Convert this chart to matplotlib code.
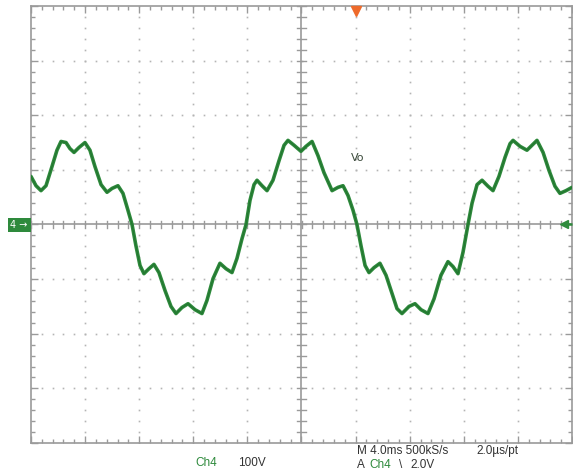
import matplotlib
matplotlib.use("Agg")
import matplotlib.pyplot as plt
import numpy as np
from matplotlib.patches import Rectangle

# ---- data (time in ms, voltage in V) ----
time_ms = [-20.00, -19.63, -19.26, -18.89, -18.45, -18.08, -17.78, -17.41, -17.12, -16.82,
           -16.45, -16.01, -15.64, -15.27, -14.82, -14.38, -14.01, -13.57, -13.20, -12.83,
           -12.53, -12.24, -11.94, -11.65, -11.28, -10.91, -10.54, -10.09, -9.65, -9.28,
           -8.84, -8.39, -7.87, -7.36, -6.99, -6.54, -6.03, -5.58, -5.14, -4.77,
           -4.40, -4.10, -3.81, -3.51, -3.29, -2.92, -2.55, -2.11, -1.66, -1.29,
           -1.00, -0.55, -0.04, 0.33, 0.78, 1.22, 1.66, 2.26, 2.70, 3.07,
           3.44, 3.81, 4.10, 4.40, 4.70, 4.99, 5.36, 5.80, 6.25, 6.69,
           7.06, 7.43, 7.95, 8.39, 8.84, 9.35, 9.80, 10.31, 10.83, 11.20,
           11.57, 11.94, 12.31, 12.61, 12.98, 13.35, 13.79, 14.16, 14.60, 15.05,
           15.42, 15.64, 16.16, 16.67, 17.04, 17.41, 17.86, 18.30, 18.74, 19.11,
           19.56, 20.00]
vo_volts = [88, 71, 62, 71, 106, 136, 152, 150, 139, 132,
            141, 150, 136, 106, 73, 59, 66, 71, 57, 26,
            0, -39, -75, -90, -81, -73, -88, -121, -150, -163,
            -152, -145, -156, -163, -139, -99, -71, -81, -88, -62,
            -26, 0, 44, 73, 81, 71, 62, 81, 117, 145,
            154, 145, 134, 143, 152, 126, 95, 62, 68, 71,
            53, 26, 0, -39, -75, -88, -79, -71, -93, -126,
            -154, -163, -150, -145, -156, -163, -136, -93, -68, -77,
            -90, -51, 0, 39, 73, 81, 70, 62, 88, 123,
            148, 154, 143, 136, 145, 154, 132, 99, 70, 57,
            62, 68]

time_per_div = 4.0      # ms/div
volts_per_div = 100.0   # V/div
n_hdiv, n_vdiv = 10, 8
trig_pos_ms = 4.0

status_ch = "Ch4"
status_scale = "100V"
status_time = "M 4.0ms 500kS/s"
status_rate = "2.0\u00b5s/pt"
trig_src = "Ch4"
trig_level = "2.0V"
trace_label = "Vo"

GREEN = "#2e8a3c"
GRID = "#b4b4b4"
BORDER = "#9a9a9a"
TXT = "#333333"

W, H = 573, 473
fig = plt.figure(figsize=(W / 100, H / 100), dpi=100)
fig.patch.set_facecolor("white")
ax = fig.add_axes([31 / W, (H - 443) / H, 541 / W, 437 / H])
xl = n_hdiv / 2 * time_per_div
yl = n_vdiv / 2 * volts_per_div
ax.set_xlim(-xl, xl)
ax.set_ylim(-yl, yl)

for s in ax.spines.values():
    s.set_color(BORDER)
    s.set_linewidth(1.2)

ax.set_xticks(np.arange(-xl, xl + 0.01, time_per_div))
ax.set_yticks(np.arange(-yl, yl + 0.01, volts_per_div))
ax.set_xticks(np.arange(-xl, xl + 0.01, time_per_div / 5), minor=True)
ax.set_yticks(np.arange(-yl, yl + 0.01, volts_per_div / 5), minor=True)
ax.tick_params(which="both", direction="in", top=True, right=True,
               labelbottom=False, labelleft=False, color=BORDER)
ax.tick_params(which="major", length=5, width=1)
ax.tick_params(which="minor", length=3, width=1)

# dotted graticule (dots at every minor step along each division line)
minor_x = np.arange(-xl, xl + 0.01, time_per_div / 5)
minor_y = np.arange(-yl, yl + 0.01, volts_per_div / 5)
for gx in np.arange(-xl + time_per_div, xl, time_per_div):
    if abs(gx) < 1e-9:
        continue
    ax.plot(np.full_like(minor_y, gx), minor_y, ls="none", marker="s",
            ms=1.2, mec="none", mfc=GRID, zorder=1)
for gy in np.arange(-yl + volts_per_div, yl, volts_per_div):
    if abs(gy) < 1e-9:
        continue
    ax.plot(minor_x, np.full_like(minor_x, gy), ls="none", marker="s",
            ms=1.2, mec="none", mfc=GRID, zorder=1)

# centre cross with tick marks
ax.axhline(0, color=BORDER, lw=1.2, zorder=1)
ax.axvline(0, color=BORDER, lw=1.2, zorder=1)
tx = 0.07 * volts_per_div
ty = 0.08 * time_per_div
for mx in minor_x:
    ax.plot([mx, mx], [-tx, tx], color=BORDER, lw=1, zorder=1)
for my in minor_y:
    ax.plot([-ty, ty], [my, my], color=BORDER, lw=1, zorder=1)

# trace
ax.plot(time_ms, vo_volts, color=GREEN, lw=2.6, solid_joinstyle="round",
        solid_capstyle="round", zorder=3)
ax.plot(time_ms, vo_volts, color="#1f6f2c", lw=0.9, alpha=0.7, zorder=4)

ax.text(3.66, 121, trace_label, color="#3b4a3b", fontsize=8, ha="left",
        va="center", zorder=5)

# trigger position marker
ax.plot([trig_pos_ms], [yl - 0.09 * volts_per_div], marker="v", ms=7,
        color="#ee6a2a", mec="#ee6a2a", clip_on=False, zorder=6)

# channel ground marker on left
fig.patches.append(Rectangle((8 / W, (H - 232) / H), 23 / W, 14 / H,
                             transform=fig.transFigure, facecolor=GREEN,
                             edgecolor="none"))
fig.text(19 / W, (H - 225) / H, "4 \u2192", color="white", fontsize=7,
         ha="center", va="center")

# trigger level arrow on right
ax.plot([xl - 0.55, xl], [0, 0], color=GREEN, lw=1.8, clip_on=False,
        zorder=6, solid_capstyle="butt")
ax.plot([xl - 0.6], [0], marker="<", ms=5.5, color=GREEN, mec=GREEN,
        clip_on=False, zorder=6)

# status text
fam = ["Liberation Sans", "DejaVu Sans"]
fs = 8.5
fig.text(195 / W, (H - 463) / H, status_ch, color=GREEN, fontsize=fs,
         family=fam, va="center")
fig.text(238 / W, (H - 463) / H, status_scale, color=TXT, fontsize=fs,
         family=fam, va="center")
fig.text(357 / W, (H - 451) / H, status_time, color=TXT, fontsize=fs,
         family=fam, va="center")
fig.text(476 / W, (H - 451) / H, status_rate, color=TXT, fontsize=fs,
         family=fam, va="center")
fig.text(357 / W, (H - 465) / H, "A", color=TXT, fontsize=fs,
         family=fam, va="center")
fig.text(369 / W, (H - 465) / H, trig_src, color=GREEN, fontsize=fs,
         family=fam, va="center")
fig.text(399 / W, (H - 465) / H, "\\", color=TXT,
         fontsize=fs, family=fam, va="center")
fig.text(410 / W, (H - 465) / H, trig_level, color=TXT,
         fontsize=fs, family=fam, va="center")

fig.savefig("out.png", dpi=100, facecolor="white")
